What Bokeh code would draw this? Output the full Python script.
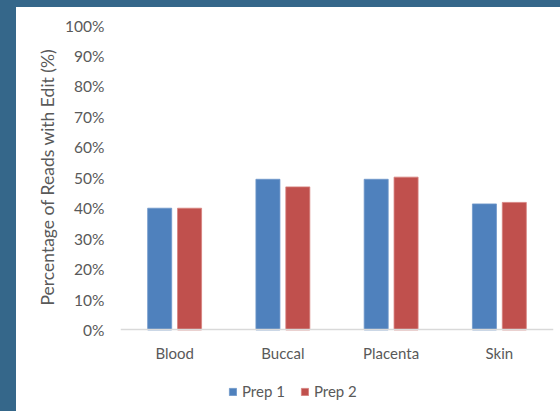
from bokeh.plotting import figure
from bokeh.models import (ColumnDataSource, FactorRange, Range1d, NumeralTickFormatter,
                          Legend, LegendItem, Title)
from bokeh.transform import dodge
from bokeh.embed import file_html
from bokeh.resources import INLINE

# Share of reads carrying the edit, by tissue and preparation
tissues = ["Blood", "Buccal", "Placenta", "Skin"]
prep1 = [0.400, 0.495, 0.495, 0.414]
prep2 = [0.400, 0.470, 0.502, 0.419]
y_ticks = [i / 10 for i in range(11)]

FONT = "Lato"
TEXT = "#595959"
BLUE = "#4f81bd"
RED = "#c0504d"
SURROUND = "#35678a"

src = ColumnDataSource(dict(tissue=tissues, prep1=prep1, prep2=prep2))

# the plotting frame runs down to the bottom edge so that the category
# labels and the legend can sit inside it, under the zero line
p = figure(
    x_range=FactorRange(*tissues, range_padding=0),
    y_range=Range1d(-0.2677, 1),
    width=544, height=404,
    output_backend="svg", toolbar_location=None,
    min_border_left=104, min_border_right=7, min_border_top=18, min_border_bottom=0,
    background_fill_color="white", border_fill_color="white",
    outline_line_color=None,
)
# dark surround on the left and top edges of the page
p.styles = {"margin-left": "16px", "margin-top": "7px",
            "box-shadow": f"-16px -7px 0 16px {SURROUND}"}

r1 = p.vbar(x=dodge("tissue", -0.138, range=p.x_range), top="prep1", width=0.222,
            source=src, fill_color=BLUE, line_color="#6f97c9", line_width=0.8)
r2 = p.vbar(x=dodge("tissue", 0.138, range=p.x_range), top="prep2", width=0.222,
            source=src, fill_color=RED, line_color="#d7817e", line_width=0.8)

p.xgrid.visible = False
p.ygrid.visible = False

# value axis
p.yaxis.ticker = y_ticks
p.yaxis.formatter = NumeralTickFormatter(format="0%")
p.yaxis.axis_line_color = None
p.yaxis.major_tick_line_color = None
p.yaxis.minor_tick_line_color = None
p.yaxis.major_label_standoff = 10
p.yaxis.major_label_text_font = FONT
p.yaxis.major_label_text_font_size = "15.5px"
p.yaxis.major_label_text_color = TEXT

# axis title, placed along the 0-100% span
p.add_layout(Title(text="Percentage of Reads with Edit (%)", align="left", offset=106,
                   text_font=FONT, text_font_size="17.5px", text_font_style="normal",
                   text_color=TEXT), "left")

# category axis pinned to the zero line
p.xaxis.fixed_location = 0
p.xaxis.axis_line_color = "#d9d9d9"
p.xaxis.axis_line_width = 1.5
p.xaxis.major_tick_line_color = None
p.xaxis.minor_tick_line_color = None
p.xaxis.major_label_standoff = 8
p.xaxis.major_label_text_font = FONT
p.xaxis.major_label_text_font_size = "15px"
p.xaxis.major_label_text_color = TEXT

legend = Legend(
    items=[LegendItem(label="Prep 1", renderers=[r1]), LegendItem(label="Prep 2", renderers=[r2])],
    orientation="horizontal", location=(108, 11),
    glyph_width=9, glyph_height=9, label_standoff=5, spacing=15,
    label_text_font=FONT, label_text_font_size="15px", label_text_color=TEXT,
    border_line_color=None, background_fill_alpha=0, margin=0, padding=0,
)
p.add_layout(legend)

open("out.html", "w").write(file_html(p, INLINE))
